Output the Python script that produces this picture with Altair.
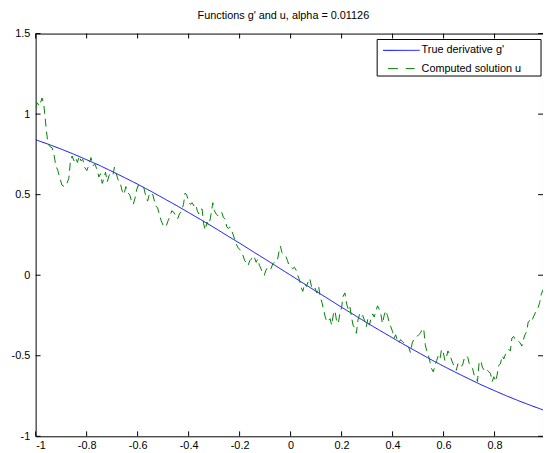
import altair as alt
import pandas as pd

# ---- data ----
g_x = [-1.00, -0.95, -0.90, -0.85, -0.80, -0.75, -0.70, -0.65, -0.60, -0.55,
       -0.50, -0.45, -0.40, -0.35, -0.30, -0.25, -0.20, -0.15, -0.10, -0.05,
       0.00, 0.05, 0.10, 0.15, 0.20, 0.25, 0.30, 0.35, 0.40, 0.45,
       0.50, 0.55, 0.60, 0.65, 0.70, 0.75, 0.80, 0.85, 0.90, 0.95, 0.99]
g_y = [0.841, 0.813, 0.783, 0.751, 0.717, 0.682, 0.644, 0.605, 0.565, 0.523,
       0.479, 0.435, 0.389, 0.343, 0.296, 0.247, 0.199, 0.149, 0.100, 0.050,
       0.000, -0.050, -0.100, -0.149, -0.199, -0.247, -0.296, -0.343, -0.389, -0.435,
       -0.479, -0.523, -0.565, -0.605, -0.644, -0.682, -0.717, -0.751, -0.783, -0.813, -0.836]

u_x = [-1.000, -0.994, -0.985, -0.975, -0.968, -0.963, -0.958, -0.952, -0.945, -0.935,
       -0.927, -0.921, -0.913, -0.906, -0.897, -0.888, -0.880, -0.870, -0.864, -0.857,
       -0.850, -0.843, -0.836, -0.829, -0.822, -0.815, -0.808, -0.799, -0.790, -0.783,
       -0.775, -0.768, -0.760, -0.752, -0.745, -0.739, -0.732, -0.726, -0.719, -0.712,
       -0.705, -0.697, -0.691, -0.684, -0.676, -0.668, -0.660, -0.654, -0.646, -0.638,
       -0.631, -0.624, -0.617, -0.610, -0.604, -0.597, -0.590, -0.582, -0.575, -0.568,
       -0.561, -0.553, -0.546, -0.540, -0.530, -0.522, -0.515, -0.508, -0.500, -0.489,
       -0.480, -0.474, -0.466, -0.458, -0.451, -0.443, -0.436, -0.428, -0.420, -0.414,
       -0.408, -0.400, -0.393, -0.386, -0.379, -0.372, -0.366, -0.360, -0.353, -0.347,
       -0.341, -0.335, -0.328, -0.322, -0.315, -0.310, -0.305, -0.299, -0.292, -0.285,
       -0.278, -0.270, -0.264, -0.258, -0.250, -0.244, -0.238, -0.232, -0.225, -0.219,
       -0.212, -0.206, -0.199, -0.193, -0.186, -0.180, -0.174, -0.167, -0.160, -0.154,
       -0.148, -0.142, -0.135, -0.129, -0.122, -0.116, -0.110, -0.103, -0.097, -0.090,
       -0.084, -0.077, -0.070, -0.064, -0.057, -0.051, -0.045, -0.040, -0.034, -0.027,
       -0.019, -0.012, -0.006, 0.001, 0.008, 0.015, 0.022, 0.028, 0.035, 0.042,
       0.048, 0.055, 0.062, 0.069, 0.075, 0.082, 0.089, 0.096, 0.103, 0.110,
       0.116, 0.123, 0.129, 0.136, 0.142, 0.149, 0.155, 0.161, 0.168, 0.174,
       0.180, 0.187, 0.193, 0.200, 0.206, 0.213, 0.220, 0.226, 0.232, 0.239,
       0.245, 0.252, 0.258, 0.264, 0.271, 0.277, 0.283, 0.290, 0.297, 0.303,
       0.309, 0.315, 0.322, 0.328, 0.335, 0.341, 0.347, 0.354, 0.360, 0.367,
       0.373, 0.380, 0.386, 0.393, 0.400, 0.406, 0.412, 0.418, 0.425, 0.431,
       0.438, 0.444, 0.451, 0.457, 0.464, 0.470, 0.477, 0.483, 0.489, 0.496,
       0.502, 0.509, 0.515, 0.522, 0.528, 0.534, 0.541, 0.547, 0.553, 0.560,
       0.566, 0.573, 0.579, 0.586, 0.592, 0.599, 0.605, 0.611, 0.617, 0.624,
       0.630, 0.637, 0.643, 0.650, 0.656, 0.663, 0.669, 0.676, 0.682, 0.689,
       0.695, 0.701, 0.708, 0.714, 0.720, 0.727, 0.733, 0.739, 0.746, 0.752,
       0.759, 0.765, 0.772, 0.778, 0.784, 0.791, 0.797, 0.803, 0.810, 0.816,
       0.823, 0.830, 0.836, 0.843, 0.849, 0.856, 0.862, 0.868, 0.875, 0.881,
       0.888, 0.894, 0.900, 0.907, 0.913, 0.919, 0.926, 0.932, 0.939, 0.945,
       0.952, 0.958, 0.965, 0.971, 0.977, 0.983, 0.990]
u_y = [1.04, 1.07, 1.05, 1.10, 1.06, 0.98, 0.90, 0.82, 0.80, 0.79,
       0.74, 0.68, 0.65, 0.61, 0.56, 0.55, 0.56, 0.60, 0.70, 0.74,
       0.71, 0.73, 0.70, 0.74, 0.71, 0.72, 0.67, 0.65, 0.69, 0.73,
       0.68, 0.69, 0.66, 0.61, 0.63, 0.57, 0.60, 0.64, 0.58, 0.62,
       0.63, 0.62, 0.67, 0.63, 0.59, 0.57, 0.52, 0.50, 0.55, 0.51,
       0.50, 0.46, 0.44, 0.48, 0.53, 0.56, 0.55, 0.55, 0.54, 0.49,
       0.46, 0.51, 0.50, 0.50, 0.43, 0.42, 0.38, 0.34, 0.31, 0.30,
       0.34, 0.36, 0.40, 0.39, 0.37, 0.35, 0.38, 0.40, 0.44, 0.51,
       0.50, 0.46, 0.44, 0.45, 0.43, 0.44, 0.40, 0.38, 0.41, 0.41,
       0.32, 0.28, 0.33, 0.31, 0.35, 0.40, 0.45, 0.40, 0.38, 0.37,
       0.39, 0.39, 0.36, 0.35, 0.30, 0.29, 0.30, 0.28, 0.25, 0.22,
       0.19, 0.17, 0.16, 0.15, 0.12, 0.09, 0.08, 0.06, 0.09, 0.10,
       0.12, 0.11, 0.08, 0.10, 0.06, 0.04, 0.01, 0.00, 0.03, 0.05,
       0.04, 0.04, 0.07, 0.08, 0.10, 0.10, 0.15, 0.18, 0.14, 0.13,
       0.12, 0.09, 0.06, 0.05, 0.04, 0.05, 0.03, 0.00, -0.03, -0.08,
       -0.10, -0.05, -0.07, -0.04, -0.02, -0.07, -0.09, -0.08, -0.11, -0.07,
       -0.13, -0.17, -0.21, -0.26, -0.29, -0.28, -0.27, -0.31, -0.24, -0.22,
       -0.28, -0.30, -0.24, -0.20, -0.13, -0.11, -0.18, -0.21, -0.19, -0.26,
       -0.31, -0.33, -0.36, -0.28, -0.24, -0.26, -0.25, -0.28, -0.32, -0.27,
       -0.31, -0.27, -0.24, -0.26, -0.22, -0.19, -0.21, -0.24, -0.30, -0.25,
       -0.22, -0.25, -0.29, -0.32, -0.35, -0.39, -0.37, -0.40, -0.42, -0.40,
       -0.41, -0.42, -0.42, -0.44, -0.45, -0.48, -0.42, -0.40, -0.39, -0.38,
       -0.37, -0.36, -0.34, -0.33, -0.43, -0.47, -0.50, -0.54, -0.58, -0.60,
       -0.56, -0.53, -0.50, -0.52, -0.46, -0.48, -0.53, -0.51, -0.47, -0.49,
       -0.52, -0.55, -0.57, -0.59, -0.55, -0.56, -0.57, -0.55, -0.51, -0.50,
       -0.51, -0.55, -0.57, -0.58, -0.62, -0.63, -0.66, -0.55, -0.53, -0.57,
       -0.59, -0.58, -0.59, -0.60, -0.61, -0.66, -0.63, -0.66, -0.62, -0.56,
       -0.55, -0.50, -0.52, -0.49, -0.47, -0.46, -0.47, -0.39, -0.38, -0.40,
       -0.41, -0.41, -0.42, -0.44, -0.40, -0.37, -0.35, -0.29, -0.28, -0.29,
       -0.26, -0.24, -0.21, -0.20, -0.17, -0.12, -0.09]

series_names = ["True derivative g'", "Computed solution u"]
series_colors = ["#0000ff", "#008000"]
series_dashes = [[1, 0], [8, 5]]
x_ticks = [-1, -0.8, -0.6, -0.4, -0.2, 0, 0.2, 0.4, 0.6, 0.8]
y_ticks = [-1, -0.5, 0, 0.5, 1, 1.5]
title_text = "Functions g' and u, alpha = 0.01126"

# ---- tables ----
df = pd.concat([
    pd.DataFrame({"x": g_x, "y": g_y, "series": series_names[0]}),
    pd.DataFrame({"x": u_x, "y": u_y, "series": series_names[1]}),
], ignore_index=True)
xt = pd.DataFrame({"x": x_ticks})
yt = pd.DataFrame({"y": y_ticks})
leg_df = pd.DataFrame({"series": series_names})

W, H = 514, 408
FONT = "Liberation Sans"
TL = 5

xs = alt.Scale(domain=[-1, 0.99], nice=False, zero=False)
ys = alt.Scale(domain=[-1, 1.5], nice=False, zero=False)
ax_x = alt.Axis(values=x_ticks, title=None, labelExpr="toString(datum.value)", labelPadding=3)
ax_y = alt.Axis(values=y_ticks, title=None, labelExpr="toString(datum.value)", labelPadding=6)
col_scale = alt.Scale(domain=series_names, range=series_colors)
dash_scale = alt.Scale(domain=series_names, range=series_dashes)

lines = alt.Chart(df).mark_line(strokeWidth=1, clip=True).encode(
    x=alt.X("x:Q", scale=xs, axis=ax_x),
    y=alt.Y("y:Q", scale=ys, axis=ax_y),
    color=alt.Color("series:N", scale=col_scale, legend=None),
    strokeDash=alt.StrokeDash("series:N", scale=dash_scale, legend=None),
)

tick_x = alt.X("x:Q", scale=xs, axis=ax_x)
tick_y = alt.Y("y:Q", scale=ys, axis=ax_y)
bottom_ticks = alt.Chart(xt).mark_rule(color="black", strokeWidth=1).encode(
    x=tick_x, y=alt.value(H), y2=alt.value(H - TL))
top_ticks = alt.Chart(xt).mark_rule(color="black", strokeWidth=1).encode(
    x=tick_x, y=alt.value(0), y2=alt.value(TL))
left_ticks = alt.Chart(yt).mark_rule(color="black", strokeWidth=1).encode(
    y=tick_y, x=alt.value(0), x2=alt.value(TL))
right_ticks = alt.Chart(yt).mark_rule(color="black", strokeWidth=1).encode(
    y=tick_y, x=alt.value(W), x2=alt.value(W - TL))

# ---- legend box (MATLAB style, inside the top-right corner) ----
LX0, LX1, LY0, LY1 = 346, 512, 6, 43
ROWS = [17, 35.5]
leg_box = alt.Chart(leg_df).transform_filter(alt.datum.series == series_names[0]).mark_rect(
    fill="white", stroke="black", strokeWidth=1).encode(
    x=alt.value(LX0), x2=alt.value(LX1), y=alt.value(LY0), y2=alt.value(LY1))
leg_layers = [leg_box]
sym_ranges = [(352, 389), (357, 384)]
sym_dash = [[1, 0], [10, 8]]
for i, name in enumerate(series_names):
    base = alt.Chart(leg_df).transform_filter(alt.datum.series == name)
    leg_layers.append(base.mark_rule(strokeWidth=1, strokeDash=sym_dash[i]).encode(
        x=alt.value(sym_ranges[i][0]), x2=alt.value(sym_ranges[i][1]), y=alt.value(ROWS[i]),
        color=alt.Color("series:N", scale=col_scale, legend=None)))
    leg_layers.append(base.mark_text(align="left", baseline="middle", font=FONT, fontSize=11,
                                     color="black").encode(
        x=alt.value(391), y=alt.value(ROWS[i]), text="series:N"))

chart = alt.layer(lines, bottom_ticks, top_ticks, left_ticks, right_ticks, *leg_layers).properties(
    width=W, height=H,
    title=alt.TitleParams(text=title_text, font=FONT, fontSize=11, fontWeight="normal",
                          color="black", anchor="middle", offset=7, dx=-6),
    autosize=alt.AutoSizeParams(type="none"),
    padding={"left": 28, "top": 23, "right": 0, "bottom": 14},
    background="white",
).configure_view(
    stroke="black", strokeWidth=1,
).configure_axis(
    domain=False, ticks=False, grid=False,
    labelFont=FONT, labelFontSize=11, labelColor="black",
)

chart.save("out.html", embed_options={"renderer": "svg", "actions": False})
